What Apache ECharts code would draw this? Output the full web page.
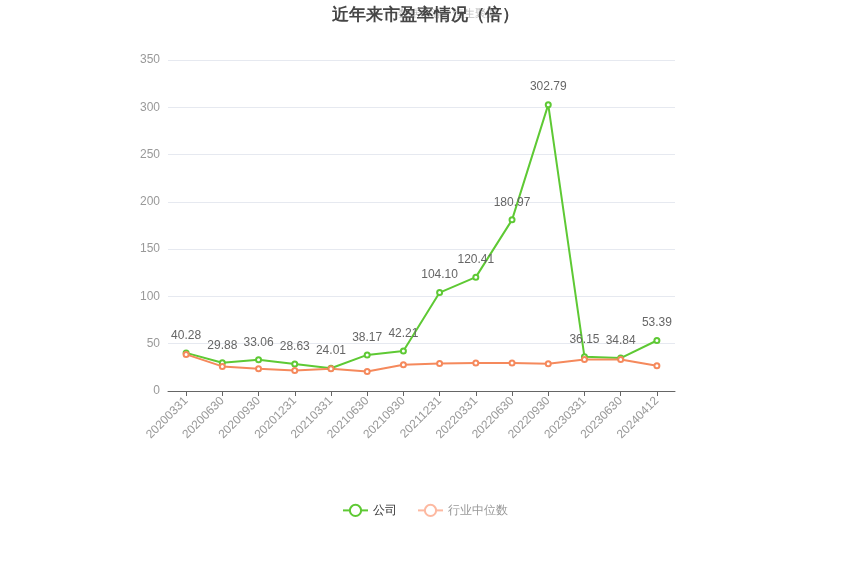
<!DOCTYPE html>
<html lang="zh">
<head>
    <meta charset="UTF-8">
    <title>近年来市盈率情况（倍）</title>
    <script src="https://cdn.jsdelivr.net/npm/echarts@6/dist/echarts.min.js"></script>
    <style>
        html, body { margin: 0; padding: 0; background: #fff; }
        #chart { width: 850px; height: 574px; }
    </style>
</head>
<body>
    <div id="chart"></div>
    <script>
        var categories = ['20200331', '20200630', '20200930', '20201231', '20210331', '20210630', '20210930',
            '20211231', '20220331', '20220630', '20220930', '20230331', '20230630', '20240412'];
        var companyPE = [40.28, 29.88, 33.06, 28.63, 24.01, 38.17, 42.21, 104.10, 120.41, 180.97, 302.79, 36.15, 34.84, 53.39];
        var industryPE = [38.7, 26.0, 23.6, 21.8, 23.6, 20.7, 27.8, 29.2, 29.5, 29.5, 28.8, 33.4, 33.4, 26.7];

        var chart = echarts.init(document.getElementById('chart'));
        chart.setOption({
            animation: false,
            title: {
                text: '近年来市盈率情况（倍）',
                left: 'center',
                top: 2,
                textStyle: { fontSize: 17, fontWeight: 'bold', color: '#464646' }
            },
            graphic: [{
                type: 'text',
                left: 398,
                top: 8,
                style: { text: '数据来源：恒生聚源', fontSize: 11, fill: 'rgba(140,140,140,0.55)' }
            }],
            legend: {
                bottom: 52,
                left: 'center',
                itemWidth: 25,
                itemHeight: 14,
                itemGap: 20,
                data: [
                    { name: '公司', textStyle: { color: '#333' } },
                    {
                        name: '行业中位数',
                        itemStyle: { color: '#fdb9a1' },
                        lineStyle: { color: '#fdb9a1' },
                        textStyle: { color: '#999' }
                    }
                ]
            },
            grid: { left: 168, right: 175, top: 60, bottom: 183 },
            xAxis: {
                type: 'category',
                data: categories,
                axisLine: { lineStyle: { color: '#666' } },
                axisTick: { show: true, alignWithLabel: true, lineStyle: { color: '#666' } },
                axisLabel: { rotate: 45, color: '#999', fontSize: 12, interval: 0 }
            },
            yAxis: {
                type: 'value',
                min: 0,
                max: 350,
                interval: 50,
                axisLine: { show: false },
                axisTick: { show: false },
                axisLabel: { color: '#999', fontSize: 12 },
                splitLine: { lineStyle: { color: '#e6e9f0' } }
            },
            series: [{
                name: '公司',
                type: 'line',
                data: companyPE,
                symbol: 'emptyCircle',
                symbolSize: 5,
                itemStyle: { color: '#5ec934' },
                lineStyle: { width: 2, color: '#5ec934' },
                label: {
                    show: true,
                    position: 'top',
                    color: '#666',
                    fontSize: 12,
                    distance: 8,
                    formatter: function (p) { return p.value.toFixed(2); }
                }
            }, {
                name: '行业中位数',
                type: 'line',
                data: industryPE,
                symbol: 'emptyCircle',
                symbolSize: 5,
                itemStyle: { color: '#f5895c' },
                lineStyle: { width: 2, color: '#f5895c' }
            }]
        });
    </script>
</body>
</html>
